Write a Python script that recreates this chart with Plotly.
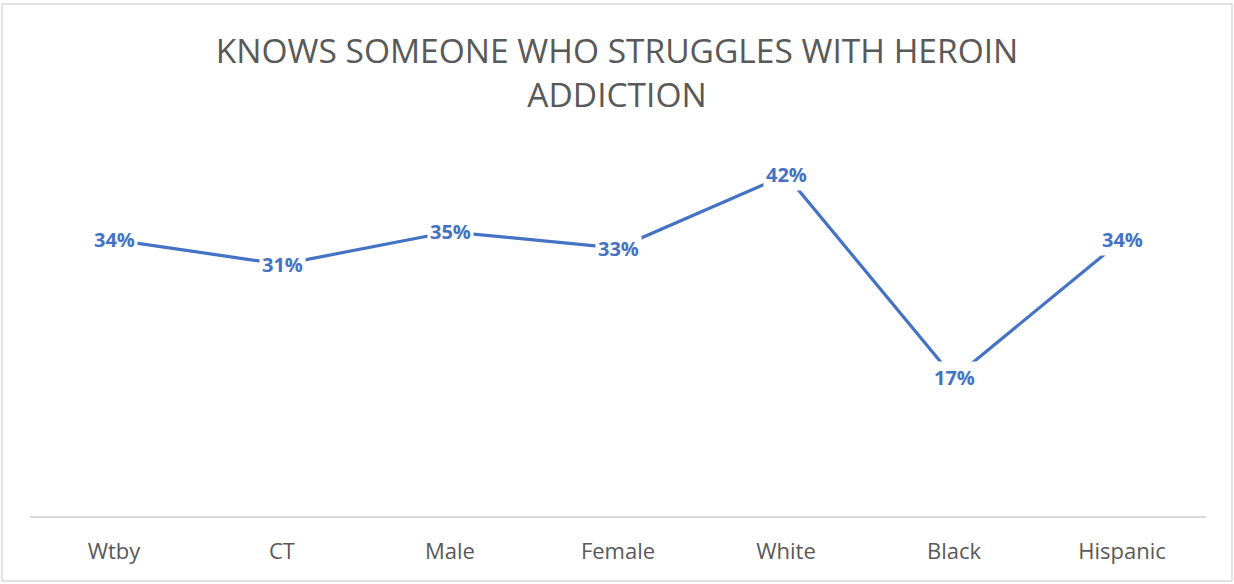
import plotly.graph_objects as go

categories = ["Wtby", "CT", "Male", "Female", "White", "Black", "Hispanic"]
values = [0.34, 0.31, 0.35, 0.33, 0.42, 0.17, 0.34]
labels = ["34%", "31%", "35%", "33%", "42%", "17%", "34%"]
title_text = "KNOWS SOMEONE WHO STRUGGLES WITH HEROIN<br>ADDICTION"

W, H = 1234, 584
L, R, T, B = 30, 28, 110, 68
plot_w = W - L - R
plot_h = H - T - B

fig = go.Figure()
fig.add_trace(go.Scatter(
    x=categories, y=values, mode="lines",
    line=dict(color="#4472C4", width=3.2),
    hoverinfo="skip", showlegend=False,
))

for c, v, t in zip(categories, values, labels):
    fig.add_annotation(
        x=c, y=v, xref="x", yref="y", text="<b>" + t + "</b>",
        showarrow=False, bgcolor="white", borderpad=2,
        font=dict(family="Open Sans", size=20, color="#4472C4"),
        xanchor="center", yanchor="middle",
    )

# chart border
fig.add_shape(
    type="rect", xref="paper", yref="paper",
    x0=(2 - L) / plot_w, x1=(1232 - L) / plot_w,
    y0=(T + plot_h - 581) / plot_h, y1=(T + plot_h - 4) / plot_h,
    line=dict(color="#D9D9D9", width=1.5), fillcolor="rgba(0,0,0,0)",
    layer="below",
)

fig.update_layout(
    width=W, height=H,
    margin=dict(l=L, r=R, t=T, b=B),
    paper_bgcolor="white", plot_bgcolor="white",
    title=dict(
        text=title_text, x=0.5, xanchor="center", xref="container",
        y=1 - 63 / H, yanchor="middle", yref="container",
        font=dict(family="Open Sans", size=33.5, color="#595959"),
    ),
    xaxis=dict(
        showline=True, linecolor="#D9D9D9", linewidth=1.5,
        showgrid=False, zeroline=False, ticks="",
        range=[-0.5, len(categories) - 0.5],
        tickfont=dict(family="Open Sans", size=22, color="#595959"),
        ticklabelstandoff=15, fixedrange=True,
    ),
    yaxis=dict(
        range=[0, 0.5], visible=False, showgrid=False, zeroline=False,
        fixedrange=True,
    ),
)

fig.write_html("out.html", config={"displayModeBar": False},
               post_script="document.body.style.margin='0';")
